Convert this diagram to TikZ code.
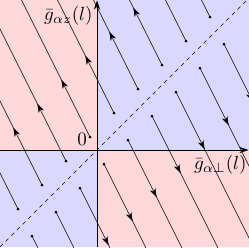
\documentclass[tikz,border=0pt]{standalone}
\usetikzlibrary{arrows.meta,decorations.markings}
\begin{document}
\begin{tikzpicture}[x=1pt, y=1pt,
    flowline/.style={line width=0.5pt, decoration={markings, mark=at position 64pt with {\arrow{Stealth[length=9pt,width=6pt]}}}, postaction={decorate}},
    seed/.style={circle, fill, inner sep=0pt, minimum size=3pt},
    lbl/.style={scale=1.9, inner sep=0pt}]
    \useasboundingbox (-97,-97) rectangle (152,150);

    % Quadrants
    \fill[red!15] (-97,0) rectangle (0,150);
    \fill[blue!15] (0,0) rectangle (152,150);
    \fill[blue!15] (-97,-97) rectangle (0,0);
    \fill[red!15] (0,-97) rectangle (152,0);

    \begin{scope}
    \clip (-97,-97) rectangle (152,150);
    % Separatrix
    \draw[line width=0.5pt, dash pattern=on 4pt off 4pt] (-97,-97) -- (152,152);

    % Flow lines above the separatrix
    \node[seed] (u1) at (113,133) {}; \draw[flowline] (u1.center) -- ++(-150,300);
    \node[seed] (u2) at (89,109) {};  \draw[flowline] (u2.center) -- ++(-150,300);
    \node[seed] (u3) at (65,85) {};   \draw[flowline] (u3.center) -- ++(-150,300);
    \node[seed] (u4) at (41,61) {};   \draw[flowline] (u4.center) -- ++(-150,300);
    \node[seed] (u5) at (17,37) {};   \draw[flowline] (u5.center) -- ++(-150,300);
    \node[seed] (u6) at (-7,13) {};   \draw[flowline] (u6.center) -- ++(-150,300);
    \node[seed] (u7) at (-31,-11) {}; \draw[flowline] (u7.center) -- ++(-150,300);
    \node[seed] (u8) at (-55,-35) {}; \draw[flowline] (u8.center) -- ++(-150,300);
    \node[seed] (u9) at (-79,-59) {}; \draw[flowline] (u9.center) -- ++(-150,300);

    % Flow lines below the separatrix
    \node[seed] (d1) at (127,106) {}; \draw[flowline] (d1.center) -- ++(150,-300);
    \node[seed] (d2) at (103,82) {};  \draw[flowline] (d2.center) -- ++(150,-300);
    \node[seed] (d3) at (79,58) {};   \draw[flowline] (d3.center) -- ++(150,-300);
    \node[seed] (d4) at (55,34) {};   \draw[flowline] (d4.center) -- ++(150,-300);
    \node[seed] (d5) at (31,10) {};   \draw[flowline] (d5.center) -- ++(150,-300);
    \node[seed] (d6) at (7,-14) {};   \draw[flowline] (d6.center) -- ++(150,-300);
    \node[seed] (d7) at (-17,-38) {}; \draw[flowline] (d7.center) -- ++(150,-300);
    \node[seed] (d8) at (-41,-62) {}; \draw[flowline] (d8.center) -- ++(150,-300);
    \node[seed] (d9) at (-65,-86) {}; \draw[flowline] (d9.center) -- ++(150,-300);
    \end{scope}

    % Axes
    \coordinate (xleft) at (-97,0);
    \coordinate (xright) at (151.5,0);
    \coordinate (ybottom) at (0,-97);
    \coordinate (ytop) at (0,149.5);
    \draw[line width=0.6pt, -{Stealth[length=9pt,width=6pt]}] (xleft) -- (xright);
    \draw[line width=0.6pt, -{Stealth[length=9pt,width=6pt]}] (ybottom) -- (ytop);

    % Labels
    \node[lbl, anchor=east] (gz) at (-4,134) {$\bar g_{\alpha z}(l)$};
    \node[lbl, anchor=east] (gp) at (150,-15) {$\bar g_{\alpha\perp}(l)$};
    \node[lbl] (orig) at (-15,11) {$0$};
\end{tikzpicture}
\end{document}
